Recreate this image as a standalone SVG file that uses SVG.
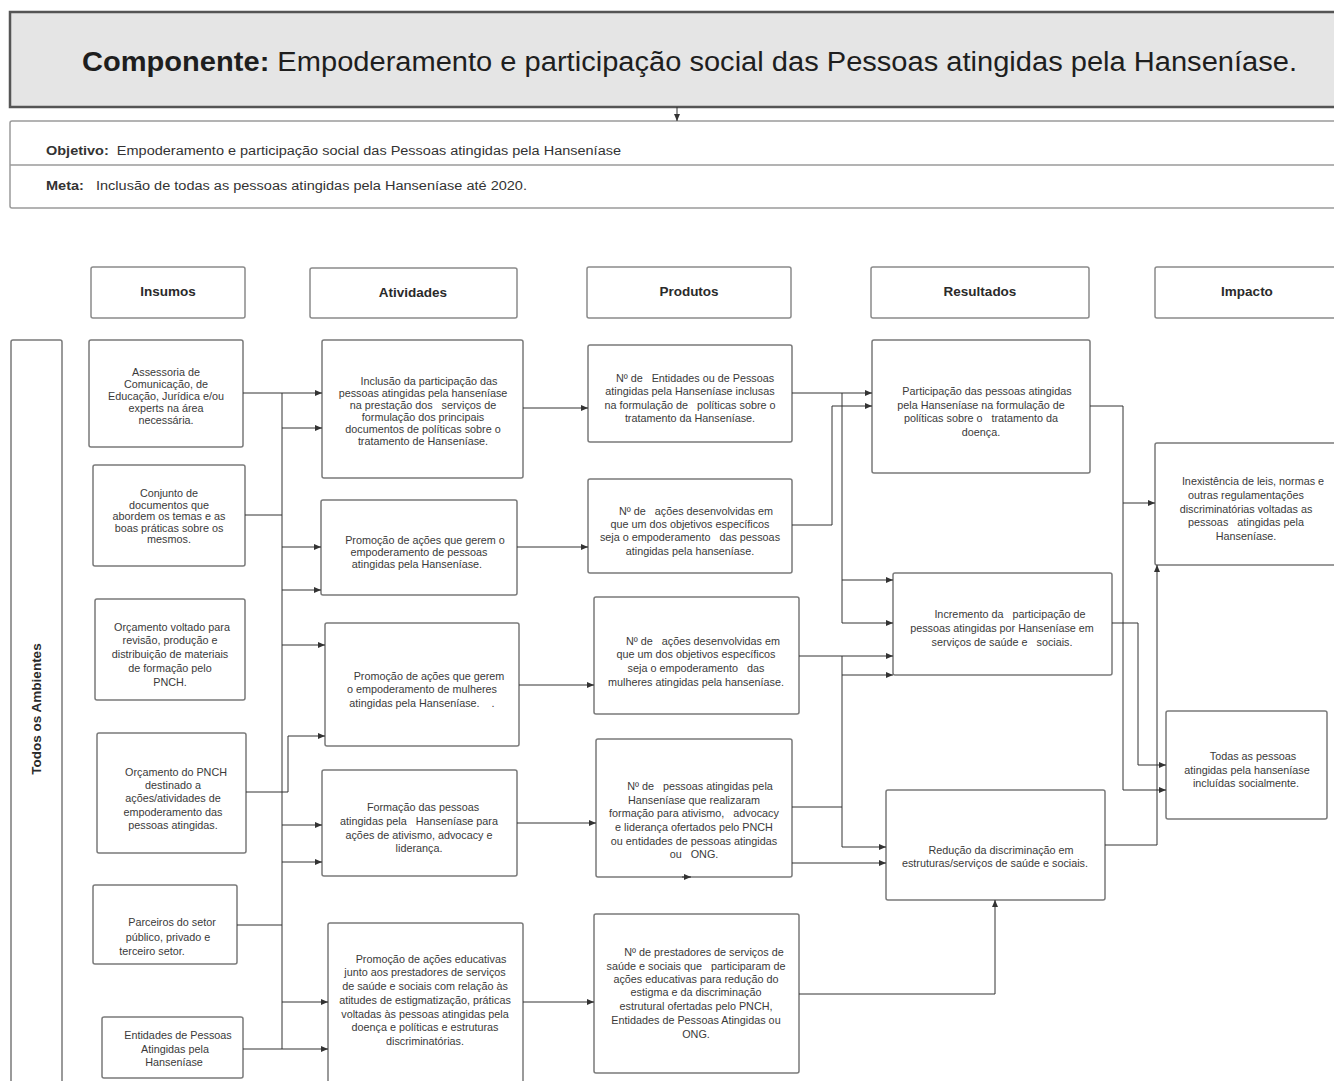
<svg xmlns="http://www.w3.org/2000/svg" width="1334" height="1081" viewBox="0 0 1334 1081">
  <style>
    .box { fill: #ffffff; stroke: #7a7a7a; stroke-width: 1.5; }
    .head { fill: #ffffff; stroke: #8a8a8a; stroke-width: 1.5; }
    .t { font-family: "Liberation Sans", Arial, sans-serif; font-size: 10.8px; fill: #3a3a3a; text-anchor: middle; }
    .h { font-family: "Liberation Sans", Arial, sans-serif; font-size: 13.5px; font-weight: bold; fill: #2a2a2a; text-anchor: middle; }
    .c { fill: none; stroke: #333333; stroke-width: 1; }
    .ca { fill: none; stroke: #333333; stroke-width: 1; marker-end: url(#arr); }
  </style>
  <defs>
    <marker id="arr" markerUnits="userSpaceOnUse" markerWidth="7" markerHeight="6" refX="7" refY="3" orient="auto">
      <path d="M0,0 L7,3 L0,6 z" fill="#333333"/>
    </marker>
  </defs>
  <rect width="1334" height="1081" fill="#ffffff"/>

  <!-- Title band -->
  <g id="componente">
    <rect x="10" y="12" width="1340" height="95" fill="#e5e5e5" stroke="#555555" stroke-width="2.5"/>
    <text x="82" y="71" font-family="Liberation Sans, Arial, sans-serif" font-size="27" fill="#1e1e1e" textLength="1215" lengthAdjust="spacingAndGlyphs"><tspan font-weight="bold">Componente:</tspan> Empoderamento e participação social das Pessoas atingidas pela Hanseníase.</text>
  </g>

  <!-- Objective and goal -->
  <g id="objetivo-meta">
    <rect x="10" y="121" width="1340" height="87" fill="#ffffff" stroke="#9a9a9a" stroke-width="1.5" rx="2"/>
    <line x1="10" y1="165" x2="1334" y2="165" stroke="#9a9a9a" stroke-width="1.5"/>
    <text x="46" y="155" font-family="Liberation Sans, Arial, sans-serif" font-size="12" fill="#333333" textLength="575" lengthAdjust="spacingAndGlyphs" xml:space="preserve"><tspan font-weight="bold">Objetivo:</tspan>  Empoderamento e participação social das Pessoas atingidas pela Hanseníase</text>
    <text x="46" y="190" font-family="Liberation Sans, Arial, sans-serif" font-size="12" fill="#333333" textLength="481" lengthAdjust="spacingAndGlyphs" xml:space="preserve"><tspan font-weight="bold">Meta:</tspan>   Inclusão de todas as pessoas atingidas pela Hanseníase até 2020.</text>
  </g>

  <!-- Column headers -->
  <g id="h-insumos"><rect class="head" x="91" y="267" width="154" height="51" rx="2"/><text class="h" x="168" y="296">Insumos</text></g>
  <g id="h-atividades"><rect class="head" x="310" y="268" width="207" height="50" rx="2"/><text class="h" x="413" y="297">Atividades</text></g>
  <g id="h-produtos"><rect class="head" x="587" y="267" width="204" height="51" rx="2"/><text class="h" x="689" y="296">Produtos</text></g>
  <g id="h-resultados"><rect class="head" x="871" y="267" width="218" height="51" rx="2"/><text class="h" x="980" y="296">Resultados</text></g>
  <g id="h-impacto"><rect class="head" x="1155" y="267" width="195" height="51" rx="2"/><text class="h" x="1247" y="296">Impacto</text></g>

  <!-- Scope band -->
  <g id="todos-ambientes">
    <rect class="box" x="11" y="340" width="51" height="760" rx="2"/>
    <text class="h" x="41" y="709" transform="rotate(-90 41 709)">Todos os Ambientes</text>
  </g>

  <!-- Insumos -->
  <g id="ins-1">
    <rect class="box" x="89" y="340" width="154" height="107" rx="2"/>
    <text class="t" x="166" y="376">Assessoria de</text>
    <text class="t" x="166" y="388">Comunicação, de</text>
    <text class="t" x="166" y="400">Educação, Jurídica e/ou</text>
    <text class="t" x="166" y="412">experts na área</text>
    <text class="t" x="166" y="424">necessária.</text>
  </g>
  <g id="ins-2">
    <rect class="box" x="93" y="465" width="152" height="101" rx="2"/>
    <text class="t" x="169" y="497">Conjunto de</text>
    <text class="t" x="169" y="509">documentos que</text>
    <text class="t" x="169" y="520">abordem os temas e as</text>
    <text class="t" x="169" y="532">boas práticas sobre os</text>
    <text class="t" x="169" y="543">mesmos.</text>
  </g>
  <g id="ins-3">
    <rect class="box" x="95" y="599" width="150" height="101" rx="2"/>
    <text class="t" x="172" y="631">Orçamento voltado para</text>
    <text class="t" x="170" y="644">revisão, produção e</text>
    <text class="t" x="170" y="658">distribuição de materiais</text>
    <text class="t" x="170" y="672">de formação pelo</text>
    <text class="t" x="170" y="686">PNCH.</text>
  </g>
  <g id="ins-4">
    <rect class="box" x="97" y="733" width="149" height="120" rx="2"/>
    <text class="t" x="176" y="776">Orçamento do PNCH</text>
    <text class="t" x="173" y="789">destinado a</text>
    <text class="t" x="173" y="802">ações/atividades de</text>
    <text class="t" x="173" y="816">empoderamento das</text>
    <text class="t" x="173" y="829">pessoas atingidas.</text>
  </g>
  <g id="ins-5">
    <rect class="box" x="93" y="885" width="144" height="79" rx="2"/>
    <text class="t" x="172" y="926">Parceiros do setor</text>
    <text class="t" x="168" y="941">público, privado e</text>
    <text class="t" x="152" y="955">terceiro setor.</text>
  </g>
  <g id="ins-6">
    <rect class="box" x="102" y="1017" width="141" height="61" rx="2"/>
    <text class="t" x="178" y="1039">Entidades de Pessoas</text>
    <text class="t" x="175" y="1053">Atingidas pela</text>
    <text class="t" x="174" y="1066">Hanseníase</text>
  </g>

  <!-- Atividades -->
  <g id="ativ-1">
    <rect class="box" x="322" y="340" width="201" height="138" rx="2"/>
    <text class="t" x="429" y="385">Inclusão da participação das</text>
    <text class="t" x="423" y="397">pessoas atingidas pela hanseníase</text>
    <text class="t" x="423" y="409" xml:space="preserve">na prestação dos   serviços de</text>
    <text class="t" x="423" y="421">formulação dos principais</text>
    <text class="t" x="423" y="433">documentos de políticas sobre o</text>
    <text class="t" x="423" y="445">tratamento de Hanseníase.</text>
  </g>
  <g id="ativ-2">
    <rect class="box" x="321" y="500" width="196" height="95" rx="2"/>
    <text class="t" x="425" y="544">Promoção de ações que gerem o</text>
    <text class="t" x="419" y="556">empoderamento de pessoas</text>
    <text class="t" x="417" y="568">atingidas pela Hanseníase.</text>
  </g>
  <g id="ativ-3">
    <rect class="box" x="325" y="623" width="194" height="123" rx="2"/>
    <text class="t" x="429" y="680">Promoção de ações que gerem</text>
    <text class="t" x="422" y="693">o empoderamento de mulheres</text>
    <text class="t" x="422" y="707" xml:space="preserve">atingidas pela Hanseníase.    .</text>
  </g>
  <g id="ativ-4">
    <rect class="box" x="322" y="770" width="195" height="106" rx="2"/>
    <text class="t" x="423" y="811">Formação das pessoas</text>
    <text class="t" x="419" y="825" xml:space="preserve">atingidas pela   Hanseníase para</text>
    <text class="t" x="419" y="839">ações de ativismo, advocacy e</text>
    <text class="t" x="419" y="852">liderança.</text>
  </g>
  <g id="ativ-5">
    <rect class="box" x="328" y="923" width="195" height="170" rx="2"/>
    <text class="t" x="431" y="963">Promoção de ações educativas</text>
    <text class="t" x="425" y="976">junto aos prestadores de serviços</text>
    <text class="t" x="425" y="990">de saúde e sociais com relação às</text>
    <text class="t" x="425" y="1004">atitudes de estigmatização, práticas</text>
    <text class="t" x="425" y="1018">voltadas às pessoas atingidas pela</text>
    <text class="t" x="425" y="1031">doença e políticas e estruturas</text>
    <text class="t" x="425" y="1045">discriminatórias.</text>
  </g>

  <!-- Produtos -->
  <g id="prod-1">
    <rect class="box" x="588" y="345" width="204" height="97" rx="2"/>
    <text class="t" x="695" y="382" xml:space="preserve">Nº de   Entidades ou de Pessoas</text>
    <text class="t" x="690" y="395">atingidas pela Hanseníase inclusas</text>
    <text class="t" x="690" y="409" xml:space="preserve">na formulação de   políticas sobre o</text>
    <text class="t" x="690" y="422">tratamento da Hanseníase.</text>
  </g>
  <g id="prod-2">
    <rect class="box" x="588" y="479" width="204" height="94" rx="2"/>
    <text class="t" x="696" y="515" xml:space="preserve">Nº de   ações desenvolvidas em</text>
    <text class="t" x="690" y="528">que um dos objetivos específicos</text>
    <text class="t" x="690" y="541" xml:space="preserve">seja o empoderamento   das pessoas</text>
    <text class="t" x="690" y="555">atingidas pela hanseníase.</text>
  </g>
  <g id="prod-3">
    <rect class="box" x="594" y="597" width="205" height="117" rx="2"/>
    <text class="t" x="703" y="645" xml:space="preserve">Nº de   ações desenvolvidas em</text>
    <text class="t" x="696" y="658">que um dos objetivos específicos</text>
    <text class="t" x="696" y="672" xml:space="preserve">seja o empoderamento   das</text>
    <text class="t" x="696" y="686">mulheres atingidas pela hanseníase.</text>
  </g>
  <g id="prod-4">
    <rect class="box" x="596" y="739" width="196" height="138" rx="2"/>
    <text class="t" x="700" y="790" xml:space="preserve">Nº de   pessoas atingidas pela</text>
    <text class="t" x="694" y="804">Hanseníase que realizaram</text>
    <text class="t" x="694" y="817" xml:space="preserve">formação para ativismo,   advocacy</text>
    <text class="t" x="694" y="831">e liderança ofertados pelo PNCH</text>
    <text class="t" x="694" y="845">ou entidades de pessoas atingidas</text>
    <text class="t" x="694" y="858" xml:space="preserve">ou   ONG.</text>
  </g>
  <g id="prod-5">
    <rect class="box" x="594" y="914" width="205" height="159" rx="2"/>
    <text class="t" x="704" y="956">Nº de prestadores de serviços de</text>
    <text class="t" x="696" y="970" xml:space="preserve">saúde e sociais que   participaram de</text>
    <text class="t" x="696" y="983">ações educativas para redução do</text>
    <text class="t" x="696" y="996">estigma e da discriminação</text>
    <text class="t" x="696" y="1010">estrutural ofertadas pelo PNCH,</text>
    <text class="t" x="696" y="1024">Entidades de Pessoas Atingidas ou</text>
    <text class="t" x="696" y="1038">ONG.</text>
  </g>

  <!-- Resultados -->
  <g id="res-1">
    <rect class="box" x="872" y="340" width="218" height="133" rx="2"/>
    <text class="t" x="987" y="395">Participação das pessoas atingidas</text>
    <text class="t" x="981" y="409">pela Hanseníase na formulação de</text>
    <text class="t" x="981" y="422" xml:space="preserve">políticas sobre o   tratamento da</text>
    <text class="t" x="981" y="436">doença.</text>
  </g>
  <g id="res-2">
    <rect class="box" x="893" y="573" width="219" height="102" rx="2"/>
    <text class="t" x="1010" y="618" xml:space="preserve">Incremento da   participação de</text>
    <text class="t" x="1002" y="632">pessoas atingidas por Hanseníase em</text>
    <text class="t" x="1002" y="646" xml:space="preserve">serviços de saúde e   sociais.</text>
  </g>
  <g id="res-3">
    <rect class="box" x="886" y="790" width="219" height="110" rx="2"/>
    <text class="t" x="1001" y="854">Redução da discriminação em</text>
    <text class="t" x="995" y="867">estruturas/serviços de saúde e sociais.</text>
  </g>

  <!-- Impacto -->
  <g id="imp-1">
    <rect class="box" x="1155" y="443" width="195" height="122" rx="2"/>
    <text class="t" x="1253" y="485">Inexistência de leis, normas e</text>
    <text class="t" x="1246" y="499">outras regulamentações</text>
    <text class="t" x="1246" y="513">discriminatórias voltadas as</text>
    <text class="t" x="1246" y="526" xml:space="preserve">pessoas   atingidas pela</text>
    <text class="t" x="1246" y="540">Hanseníase.</text>
  </g>
  <g id="imp-2">
    <rect class="box" x="1166" y="711" width="161" height="108" rx="2"/>
    <text class="t" x="1253" y="760">Todas as pessoas</text>
    <text class="t" x="1247" y="774">atingidas pela hanseníase</text>
    <text class="t" x="1246" y="787">incluídas socialmente.</text>
  </g>

  <!-- Connectors -->
  <g id="connectors">
    <path class="ca" d="M677,107 V121"/>

    <!-- insumos to atividades -->
    <path class="c" d="M282,393 V1049"/>
    <path class="ca" d="M243,393 H322"/>
    <path class="ca" d="M282,428 H322"/>
    <path class="c" d="M245,515 H282"/>
    <path class="ca" d="M282,547 H321"/>
    <path class="ca" d="M282,590 H321"/>
    <path class="ca" d="M282,645 H325"/>
    <path class="c" d="M246,792 H288"/>
    <path class="ca" d="M288,792 V736 H325"/>
    <path class="ca" d="M282,825 H322"/>
    <path class="ca" d="M282,862 H322"/>
    <path class="c" d="M237,925 H282"/>
    <path class="ca" d="M282,1002 H328"/>
    <path class="ca" d="M243,1049 H328"/>

    <!-- atividades to produtos -->
    <path class="ca" d="M523,408 H588"/>
    <path class="ca" d="M517,547 H588"/>
    <path class="ca" d="M519,685 H594"/>
    <path class="ca" d="M517,823 H596"/>
    <path class="ca" d="M523,1002 H594"/>

    <!-- produtos to resultados -->
    <path class="ca" d="M792,393 H872"/>
    <path class="ca" d="M842,393 V623 H893"/>
    <path class="ca" d="M842,580 H893"/>
    <path class="ca" d="M792,525 H832 V406 H872"/>
    <path class="ca" d="M799,656 H893"/>
    <path class="ca" d="M842,656 V847 H886"/>
    <path class="ca" d="M842,675 H893"/>
    <path class="c" d="M792,807 H842"/>
    <path class="ca" d="M792,863 H886"/>
    <path class="ca" d="M799,994 H995 V900"/>
    <path class="ca" d="M682,877 H691"/>

    <!-- resultados to impacto -->
    <path class="ca" d="M1090,406 H1123 V790 H1166"/>
    <path class="ca" d="M1123,503 H1155"/>
    <path class="ca" d="M1112,623 H1138 V765 H1166"/>
    <path class="ca" d="M1105,845 H1157 V565"/>
  </g>
</svg>
